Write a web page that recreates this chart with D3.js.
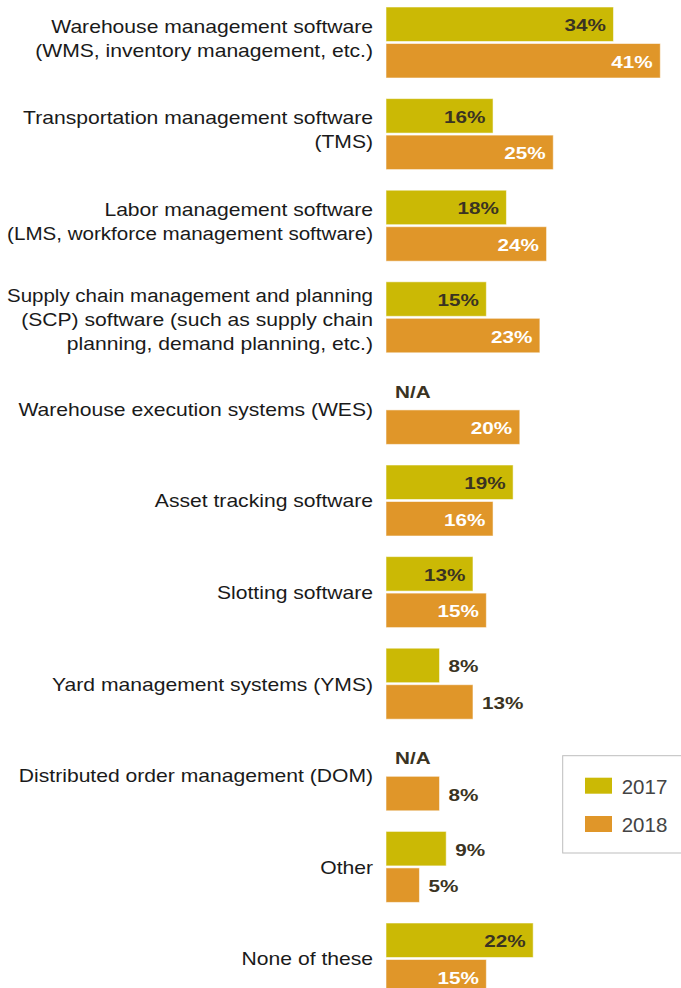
<!DOCTYPE html>
<html>
<head>
<meta charset="utf-8">
<script src="https://cdn.jsdelivr.net/npm/d3@7"></script>
<style>
  html, body { margin: 0; padding: 0; background: #fff; }
  svg { display: block; }
</style>
</head>
<body>
<svg id="chart" width="681" height="988"></svg>
<script>
// Software categories (label lines) and survey shares per year, in percent
const categories = [
  ["Warehouse management software", "(WMS, inventory management, etc.)"],
  ["Transportation management software", "(TMS)"],
  ["Labor management software", "(LMS, workforce management software)"],
  ["Supply chain management and planning", "(SCP) software (such as supply chain", "planning, demand planning, etc.)"],
  ["Warehouse execution systems (WES)"],
  ["Asset tracking software"],
  ["Slotting software"],
  ["Yard management systems (YMS)"],
  ["Distributed order management (DOM)"],
  ["Other"],
  ["None of these"]
];
const years = ["2017", "2018"];
const values2017 = [34, 16, 18, 15, null, 19, 13, 8, null, 9, 22];
const values2018 = [41, 25, 24, 23, 20, 16, 15, 13, 8, 5, 15];
// labels drawn to the right of their bar
const outsideLabels = ["7-2017", "7-2018", "8-2018", "9-2017", "9-2018"];

const colors = { "2017": "#CBB905", "2018": "#E09629" };
const labelDark = "#3A3322";
const FONT = "'Liberation Sans', Arial, Helvetica, sans-serif";
const STRETCH_CAT = 1.2;    // wide grotesque look for category labels
const STRETCH_VAL = 1.23;   // and for the bold value labels
const LABEL_RIGHT = 373;
const LABEL_MIN_LEFT = 7;

const svg = d3.select("#chart");

const x = d3.scaleLinear().domain([0, 41]).range([386, 660.3]);
const y = d3.scaleBand()
  .domain(d3.range(categories.length))
  .range([7, 7 + categories.length * 91.6 - 20.6])
  .paddingInner(0.225)
  .paddingOuter(0);
const ySub = d3.scaleBand().domain(years).range([0, y.bandwidth()]).paddingInner(0.055);

const rows = categories.map((lines, i) => ({
  i, lines,
  bars: years.map(yr => ({ i, year: yr, value: (yr === "2017" ? values2017 : values2018)[i] }))
}));

const g = svg.selectAll("g.row").data(rows).join("g")
  .attr("class", "row")
  .attr("transform", d => `translate(0,${y(d.i)})`);

// category labels, right-aligned beside each group; long lines are
// stretched less so they stay inside the left edge
const lineH = 24;
const blockShift = { 1: 0, 2: -4.5, 3: 2 };
g.each(function(d) {
  const n = d.lines.length;
  const cy = y.bandwidth() / 2;
  d3.select(this).selectAll("text.cat").data(d.lines).join("text")
    .attr("class", "cat")
    .attr("text-anchor", "end")
    .attr("font-family", FONT)
    .attr("font-size", 17.6)
    .attr("fill", "#1a1a1a")
    .text(l => l)
    .each(function(l, k) {
      const len = this.getComputedTextLength();
      const sx = Math.min(STRETCH_CAT, (LABEL_RIGHT - LABEL_MIN_LEFT) / len);
      const by = cy + 6.8 + blockShift[n] + (k - (n - 1) / 2) * lineH;
      d3.select(this).attr("transform", `translate(${LABEL_RIGHT},${by}) scale(${sx},1)`);
    });
});

const bar = g.selectAll("g.bar").data(d => d.bars).join("g").attr("class", "bar");

bar.filter(d => d.value !== null).append("rect")
  .attr("x", x(0))
  .attr("y", d => ySub(d.year))
  .attr("width", d => x(d.value) - x(0))
  .attr("height", ySub.bandwidth())
  .attr("fill", d => colors[d.year])
  .attr("stroke", "#fff")
  .attr("stroke-opacity", 0.55)
  .attr("stroke-width", 1);

bar.append("text")
  .attr("font-family", FONT)
  .attr("font-weight", "bold")
  .attr("font-size", 16.8)
  .each(function(d) {
    const t = d3.select(this);
    const outside = d.value === null || outsideLabels.includes(`${d.i}-${d.year}`);
    const by = ySub(d.year) + ySub.bandwidth() / 2 + 7;
    if (outside) {
      t.attr("transform", `translate(${x(d.value || 0) + 9},${by}) scale(${STRETCH_VAL},1)`)
        .attr("text-anchor", "start").attr("fill", labelDark);
    } else {
      t.attr("transform", `translate(${x(d.value) - 7.6},${by}) scale(${STRETCH_VAL},1)`)
        .attr("text-anchor", "end")
        .attr("fill", d.year === "2017" ? labelDark : "#fff");
    }
    t.text(d.value === null ? "N/A" : d.value + "%");
  });

// legend
const legend = svg.append("g");
legend.append("rect")
  .attr("x", 562.7).attr("y", 755.7)
  .attr("width", 140).attr("height", 97.3)
  .attr("fill", "#fff").attr("stroke", "#bdbdbd").attr("stroke-width", 1);
const li = legend.selectAll("g.item").data(years).join("g")
  .attr("transform", (d, k) => `translate(585,${777.7 + k * 38.3})`);
li.append("rect").attr("width", 27).attr("height", 16).attr("fill", d => colors[d]);
li.append("text")
  .attr("x", 36.7).attr("y", 15.8)
  .attr("font-family", FONT).attr("font-size", 20.5).attr("fill", "#444")
  .text(d => d);
</script>
</body>
</html>
